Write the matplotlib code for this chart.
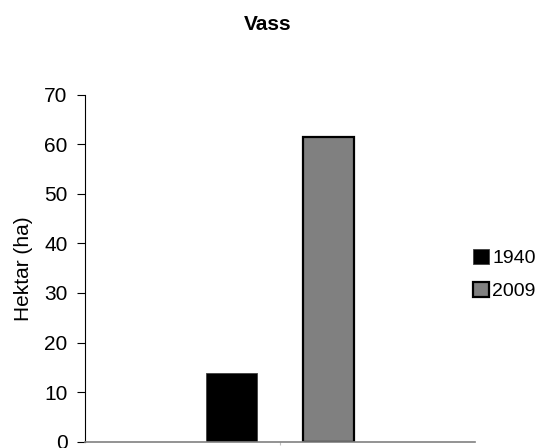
import matplotlib
matplotlib.use("Agg")
import matplotlib.pyplot as plt
import numpy as np

plt.rcParams['font.family'] = ['Liberation Sans', 'DejaVu Sans']

# data
years = ['1940', '2009']
values = [13.8, 61.6]
colors = ['#000000', '#808080']
edges = ['#404040', '#000000']

fig = plt.figure(figsize=(5.41, 4.48), dpi=100)
ax = fig.add_axes([85 / 541, 1 - 441.5 / 448, (475 - 85) / 541, (441.5 - 95) / 448])

offsets = [-0.124, 0.124]
width = 0.131
for yr, v, c, e, off in zip(years, values, colors, edges, offsets):
    ax.bar(off, v, width=width, color=c, edgecolor=e,
           linewidth=1.6 if c != '#000000' else 0.6, label=yr)

ax.set_xlim(-0.5, 0.5)
ax.set_ylim(0, 70)
ax.set_yticks(np.arange(0, 71, 10))
ax.set_xticks([0])
ax.set_xticklabels([''])
ax.tick_params(axis='x', length=2, color='#c0c0c0')
ax.tick_params(axis='y', length=5.5, width=0.8, labelsize=15, pad=7)

ax.spines['top'].set_visible(False)
ax.spines['right'].set_visible(False)
ax.spines['left'].set_linewidth(0.8)
ax.spines['bottom'].set_color('#808080')
ax.spines['bottom'].set_linewidth(1.2)

ax.set_ylabel('Hektar (ha)', fontsize=15)
ax.yaxis.set_label_coords(-52 / 390, 0.5)
fig.text(268 / 541, 1 - 24 / 448, 'Vass', ha='center', va='center',
         fontsize=15, fontweight='bold')

fig.legend(loc='center left', bbox_to_anchor=(473 / 541, 1 - 274.5 / 448),
           frameon=False, fontsize=14, handlelength=0.8, handleheight=0.8,
           handletextpad=0.2, labelspacing=0.75, borderpad=0, borderaxespad=0)

fig.savefig('out.png', dpi=100)
